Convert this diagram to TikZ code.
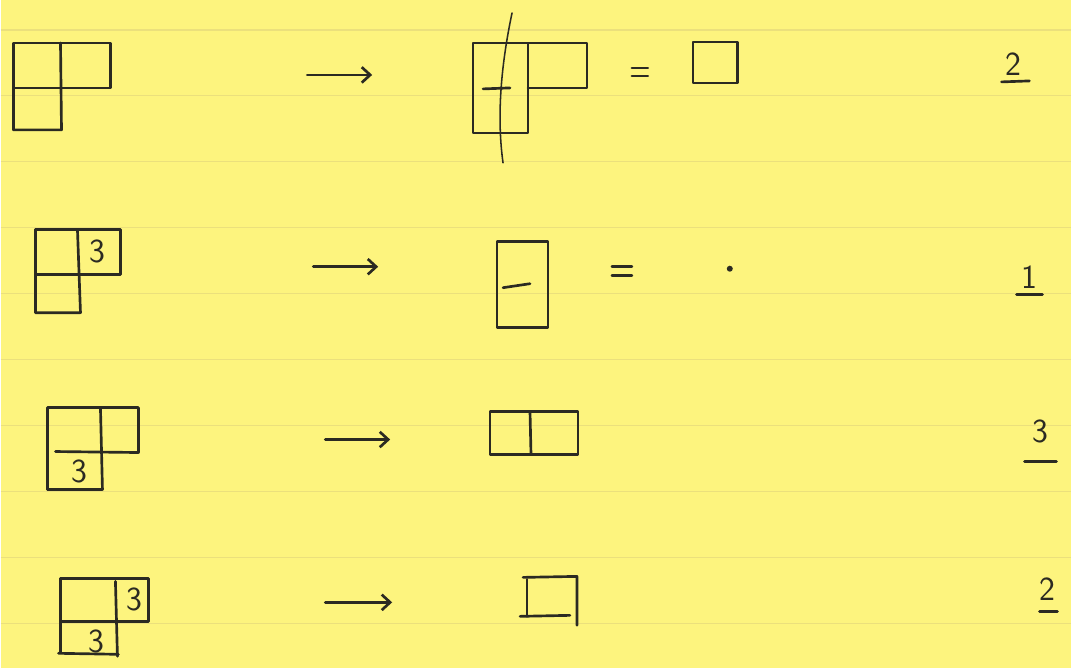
\documentclass[tikz,border=0pt]{standalone}
\usetikzlibrary{arrows.meta}
\definecolor{paper}{HTML}{FDF47E}
\definecolor{rule}{HTML}{EBE07C}
\definecolor{ink}{HTML}{2B2A22}
\begin{document}
\begin{tikzpicture}[x=0.025cm,y=-0.025cm,
    pen/.style={draw=ink,line width=1.9pt,line cap=round,line join=round},
    digit/.style={font=\sffamily\fontsize{24}{28}\selectfont,text=ink,inner sep=1pt},
    yields/.style={pen,-{Straight Barb[length=6pt,width=11pt]}}]
  \fill[paper] (0,0) rectangle (1072,669);
  \foreach \y in {30,96,...,624} \draw[rule,line width=0.8pt] (0,\y) -- (1072,\y);
  % row 1
  \draw[pen] (13,130) -- (13,43) -- (110,43) -- (110,88) -- (13,88);
  \draw[pen] (60,43) -- (61,130) -- (13,130);
  \coordinate (s1) at (307,75);
  \coordinate (e1) at (372,75);
  \draw[yields] (s1) -- (e1);
  \draw[pen] (473,43) rectangle (528,133);
  \draw[pen] (528,43) -- (587,43) -- (587,88) -- (528,88);
  \draw[pen] (483,89) -- (510,88);
  \draw[pen,line width=1.1pt] (512,13) .. controls (500,70) and (497,120) .. (503,163);
  \draw[pen] (632,68) -- (648,68) (632,76) -- (648,76);
  \draw[pen] (693,42) rectangle (738,83);
  \node[digit] (n1) at (1014,64) {2};
  \draw[pen] (1002,82) -- (1030,81);
  % row 2
  \draw[pen] (35,313) -- (35,230) -- (120,230) -- (120,275) -- (35,275);
  \draw[pen] (77,230) -- (80,313) -- (35,313);
  \node[digit] (c2) at (97,252) {3};
  \coordinate (s2) at (313,267);
  \coordinate (e2) at (378,267);
  \draw[yields] (s2) -- (e2);
  \draw[pen] (497,242) rectangle (548,328);
  \draw[pen] (503,288) -- (530,284);
  \draw[pen] (612,267) -- (632,267) (612,276) -- (632,276);
  \fill[ink] (730,269) circle (3);
  \node[digit] (n2) at (1030,277) {1};
  \draw[pen] (1017,295) -- (1043,295);
  % row 3
  \draw[pen] (47,490) -- (47,408) -- (138,408) -- (138,453) -- (55,452);
  \draw[pen] (100,408) -- (102,490) -- (47,490);
  \node[digit] (c3) at (79,472) {3};
  \coordinate (s3) at (325,440);
  \coordinate (e3) at (390,440);
  \draw[yields] (s3) -- (e3);
  \draw[pen] (490,412) rectangle (578,455);
  \draw[pen] (530,412) -- (531,455);
  \node[digit] (n3) at (1041,432) {3};
  \draw[pen] (1025,462) -- (1057,462);
  % row 4
  \draw[pen] (60,653) -- (60,579) -- (148,579) -- (148,622) -- (60,622);
  \draw[pen] (115,582) -- (117,657);
  \draw[pen] (58,654) -- (118,655);
  \node[digit] (c4a) at (134,600) {3};
  \node[digit] (c4b) at (96,642) {3};
  \coordinate (s4) at (325,603);
  \coordinate (e4) at (392,603);
  \draw[yields] (s4) -- (e4);
  \draw[pen] (523,578) -- (577,577) -- (577,626);
  \draw[pen] (527,580) -- (527,617);
  \draw[pen] (520,617) -- (570,616);
  \node[digit] (n4) at (1048,590) {2};
  \draw[pen] (1040,612) -- (1058,612);
\end{tikzpicture}
\end{document}
